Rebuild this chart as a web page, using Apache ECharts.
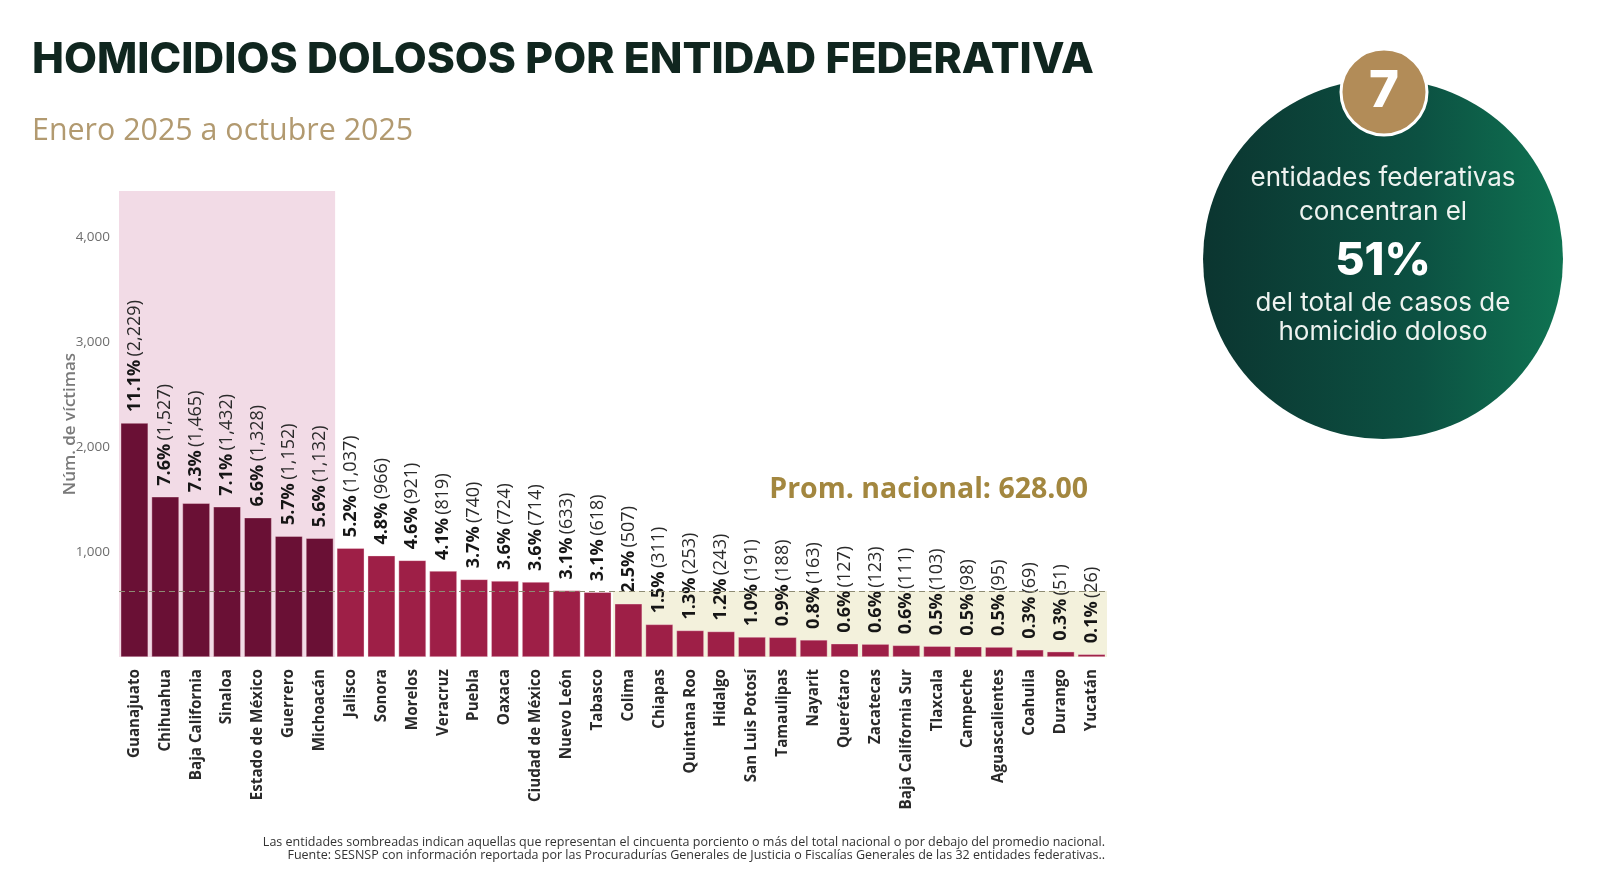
<!DOCTYPE html>
<html>
<head>
<meta charset="utf-8">
<script src="https://cdn.jsdelivr.net/npm/echarts@6/dist/echarts.min.js"></script>
<style>
html,body{margin:0;padding:0;background:#ffffff;}
#c{width:1600px;height:879px;}
</style>
</head>
<body>
<div id="c"></div>
<script>
const states = ['Guanajuato','Chihuahua','Baja California','Sinaloa','Estado de México','Guerrero','Michoacán','Jalisco','Sonora','Morelos','Veracruz','Puebla','Oaxaca','Ciudad de México','Nuevo León','Tabasco','Colima','Chiapas','Quintana Roo','Hidalgo','San Luis Potosí','Tamaulipas','Nayarit','Querétaro','Zacatecas','Baja California Sur','Tlaxcala','Campeche','Aguascalientes','Coahuila','Durango','Yucatán'];
const victims = [2229,1527,1465,1432,1328,1152,1132,1037,966,921,819,740,724,714,633,618,507,311,253,243,191,188,163,127,123,111,103,98,95,69,51,26];
const percents = ['11.1%','7.6%','7.3%','7.1%','6.6%','5.7%','5.6%','5.2%','4.8%','4.6%','4.1%','3.7%','3.6%','3.6%','3.1%','3.1%','2.5%','1.5%','1.3%','1.2%','1.0%','0.9%','0.8%','0.6%','0.6%','0.6%','0.5%','0.5%','0.5%','0.3%','0.3%','0.1%'];
const yTicks = [0,1000,2000,3000,4000];
const nationalAverage = 628;
const topCount = 7;
const yMax = 4440;

const chart = echarts.init(document.getElementById('c'));
const fmt = v => v.toLocaleString('en-US');

const option = {
  animation:false,
  backgroundColor:'#ffffff',
  title:[
    {text:'HOMICIDIOS DOLOSOS POR ENTIDAD FEDERATIVA', left:27, top:34,
     textStyle:{fontFamily:'Inter', fontWeight:800, fontSize:42.7, color:'#10261f'}},
    {text:'Enero 2025 a octubre 2025', left:27, top:111,
     textStyle:{fontFamily:'Open Sans', fontWeight:400, fontSize:30.4, color:'#b29a70'}}
  ],
  grid:{left:119, right:493, top:191, bottom:222},
  xAxis:[
    {type:'category', data:states, axisLine:{show:false}, axisTick:{show:false},
     axisLabel:{rotate:90, interval:0, margin:12, fontFamily:'Open Sans', fontWeight:700, fontSize:15.2, color:'#2a2a2a'}},
    {type:'value', min:-0.5, max:states.length-0.5, show:false}
  ],
  yAxis:{type:'value', min:0, max:yMax, interval:1000,
    splitLine:{show:false}, axisLine:{show:false}, axisTick:{show:false},
    axisLabel:{margin:9, fontFamily:'Open Sans', fontSize:13.5, color:'#6e6e6e',
      formatter:v => yTicks.includes(v) && v>0 ? fmt(v) : ''},
    name:'Núm. de víctimas', nameLocation:'middle', nameGap:40, nameRotate:90, nameMoveOverlap:false,
    nameTextStyle:{fontFamily:'Open Sans', fontWeight:600, fontSize:17, color:'#7a7a7a'}
  },
  series:[
    {type:'line', xAxisIndex:1, data:[], z:1, silent:true,
     markArea:{silent:true, data:[
       [{xAxis:-0.5, yAxis:0, itemStyle:{color:'#f2dbe6'}},{xAxis:topCount-0.5, yAxis:yMax}],
       [{xAxis:15.5, yAxis:0, itemStyle:{color:'#f3f1dc'}},{xAxis:states.length-0.5, yAxis:nationalAverage}]
     ]},
     markLine:{silent:true, symbol:'none', label:{show:false},
       lineStyle:{color:'#8d8b72', type:[6,4], width:1.2},
       data:[[{xAxis:-0.5, yAxis:nationalAverage},{xAxis:states.length-0.5, yAxis:nationalAverage}]]}
    },
    {type:'bar', data:victims.map((v,i)=>({value:v, itemStyle:{color: i<topCount ? '#6a1035' : '#9e1f47'}})),
     barWidth:27.5, z:3,
     itemStyle:{borderColor:'rgba(255,230,235,0.6)', borderWidth:0.6},
     label:{show:true, position:'top', rotate:90, align:'left', verticalAlign:'middle', distance:11,
       formatter:p => '{b|'+percents[p.dataIndex]+'} {n|('+fmt(victims[p.dataIndex])+')}',
       rich:{
         b:{fontFamily:'Open Sans', fontWeight:700, fontSize:18, color:'#161616'},
         n:{fontFamily:'Open Sans', fontWeight:400, fontSize:18, color:'#2a2a2a'}
       }}
    }
  ],
  graphic:[
    {type:'text', right:512, top:475, style:{text:'Prom. nacional: 628.00', font:'700 28.5px "Open Sans"', fill:'#a3873f'}},
    {type:'circle', shape:{cx:1383, cy:259, r:180}, style:{fill:new echarts.graphic.LinearGradient(0,0,1,0,[{offset:0,color:'#0b3530'},{offset:0.6,color:'#0c5142'},{offset:1,color:'#0f7352'}])}},
    {type:'circle', shape:{cx:1384, cy:92, r:43}, style:{fill:'#b28c58', stroke:'#ffffff', lineWidth:3}},
    {type:'text', x:1384, y:92, style:{text:'7', font:'800 51px Inter', fill:'#ffffff', align:'center', verticalAlign:'middle'}},
    {type:'text', x:1383, y:178, style:{text:'entidades federativas', font:'400 26px Inter', fill:'#eef3f0', align:'center', verticalAlign:'middle'}},
    {type:'text', x:1383, y:212, style:{text:'concentran el', font:'400 26px Inter', fill:'#eef3f0', align:'center', verticalAlign:'middle'}},
    {type:'text', x:1383, y:261, style:{text:'51%', font:'800 45px Inter', fill:'#ffffff', align:'center', verticalAlign:'middle'}},
    {type:'text', x:1383, y:303, style:{text:'del total de casos de', font:'400 26px Inter', fill:'#eef3f0', align:'center', verticalAlign:'middle'}},
    {type:'text', x:1383, y:332, style:{text:'homicidio doloso', font:'400 26px Inter', fill:'#eef3f0', align:'center', verticalAlign:'middle'}},
    {type:'text', x:1105, y:842, style:{text:'Las entidades sombreadas indican aquellas que representan el cincuenta porciento o más del total nacional o por debajo del promedio nacional.', font:'400 12.5px "Open Sans"', fill:'#333333', align:'right', verticalAlign:'middle'}},
    {type:'text', x:1105, y:855, style:{text:'Fuente: SESNSP con información reportada por las Procuradurías Generales de Justicia o Fiscalías Generales de las 32 entidades federativas..', font:'400 12.5px "Open Sans"', fill:'#333333', align:'right', verticalAlign:'middle'}}
  ]
};
chart.setOption(option);
</script>
</body>
</html>
